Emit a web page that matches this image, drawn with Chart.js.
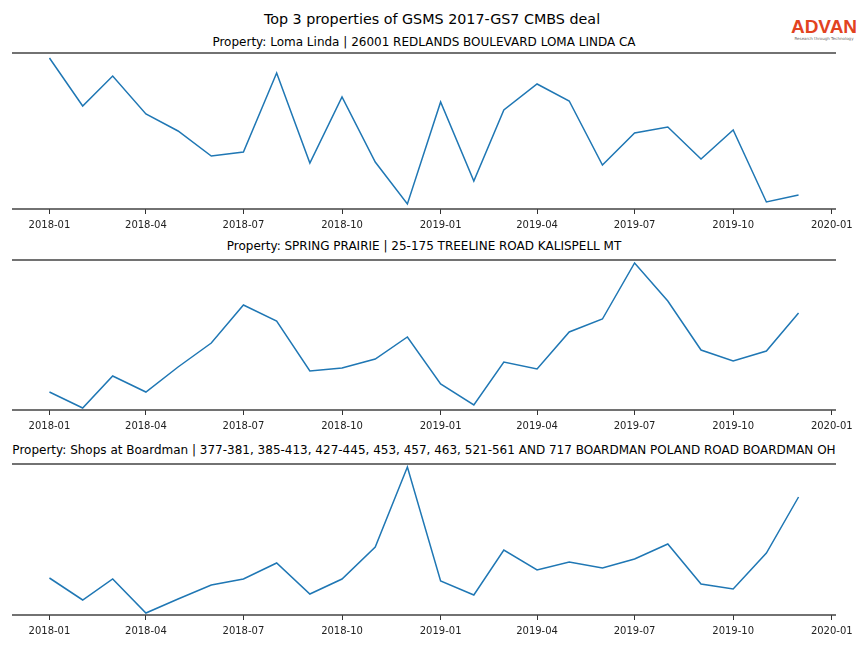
<!DOCTYPE html>
<html lang="en">
<head>
<meta charset="UTF-8">
<title>Top 3 properties of GSMS 2017-GS7 CMBS deal</title>
<script src="https://cdn.jsdelivr.net/npm/chart.js@4"></script>
<style>
    body { margin: 0; background: #fff; font-family: "DejaVu Sans", sans-serif; }
    #page { position: relative; width: 864px; height: 648px; overflow: hidden; }
    .box { position: absolute; left: 0; width: 864px; }
    .txt { position: absolute; white-space: nowrap; color: #000; transform: translate(-50%, -50%); }
    #logo { position: absolute; left: 790px; top: 18px; width: 68px; text-align: center; }
    #logo .big { color: #e2431f; font: bold 19px "Liberation Sans", sans-serif; line-height: 18px; }
    #logo .small { color: #666; font: 4px "DejaVu Sans", sans-serif; line-height: 5px; }
</style>
</head>
<body>
<div id="page">
    <div class="txt" style="left:432px; top:19px; font-size:14.3px;">Top 3 properties of GSMS 2017-GS7 CMBS deal</div>
    <div id="logo"><div class="big">ADVAN</div><div class="small">Research through Technology</div></div>

    <div class="txt" style="left:424px; top:42px; font-size:12px;">Property: Loma Linda | 26001 REDLANDS BOULEVARD LOMA LINDA CA</div>
    <div class="box" style="top:51px; height:186px;"><canvas id="c1"></canvas></div>

    <div class="txt" style="left:424px; top:246px; font-size:12px;">Property: SPRING PRAIRIE | 25-175 TREELINE ROAD KALISPELL MT</div>
    <div class="box" style="top:258px; height:180px;"><canvas id="c2"></canvas></div>

    <div class="txt" style="left:424px; top:450px; font-size:12px;">Property: Shops at Boardman | 377-381, 385-413, 427-445, 453, 457, 463, 521-561 AND 717 BOARDMAN POLAND ROAD BOARDMAN OH</div>
    <div class="box" style="top:462px; height:181px;"><canvas id="c3"></canvas></div>
</div>

<script>
    // monthly observations
    const months = ['2018-01','2018-02','2018-03','2018-04','2018-05','2018-06','2018-07','2018-08','2018-09','2018-10','2018-11','2018-12',
                    '2019-01','2019-02','2019-03','2019-04','2019-05','2019-06','2019-07','2019-08','2019-09','2019-10','2019-11','2019-12'];
    const tickLabels = ['2018-01','2018-04','2018-07','2018-10','2019-01','2019-04','2019-07','2019-10','2020-01'];

    const lomaLinda = [151, 103, 133, 95, 78, 53, 57, 136, 46, 112, 47, 5, 107, 28, 99, 125, 108, 44, 76, 82, 50, 79, 7, 14];
    const springPrairie = [18, 2, 34, 18, 43, 67, 105, 89, 39, 42, 51, 73, 26, 5, 48, 41, 78, 91, 147, 109, 60, 49, 59, 97];
    const boardman = [37, 15, 36, 2, 16, 30, 36, 52, 21, 36, 68, 148, 34, 20, 65, 45, 53, 47, 56, 71, 31, 26, 62, 118];

    const yTop = [156, 150, 151];

    function dayOf(s) {
        const p = s.split('-');
        return (Date.UTC(+p[0], +p[1] - 1, 1) - Date.UTC(2018, 0, 1)) / 86400000;
    }
    const xs = months.map(dayOf);
    const span = xs[xs.length - 1] - xs[0];
    const tickDays = tickLabels.map(dayOf);

    // top and bottom spines
    const spines = {
        id: 'spines',
        afterDraw(chart) {
            const a = chart.chartArea, g = chart.ctx;
            g.save();
            g.strokeStyle = '#444';
            g.lineWidth = 1.6;
            g.beginPath();
            g.moveTo(a.left, a.top); g.lineTo(a.right, a.top);
            g.moveTo(a.left, a.bottom); g.lineTo(a.right, a.bottom);
            g.stroke();
            g.restore();
        }
    };

    function plotar(id, values, ymax) {
        new Chart(document.getElementById(id), {
            type: 'line',
            data: {
                datasets: [{
                    data: values.map((v, i) => ({ x: xs[i], y: v })),
                    borderColor: '#1f77b4',
                    borderWidth: 1.5,
                    pointRadius: 0,
                    tension: 0,
                    fill: false
                }]
            },
            options: {
                responsive: true,
                maintainAspectRatio: false,
                animation: false,
                layout: { padding: { left: 12, right: 28, top: 2, bottom: 4 } },
                plugins: { legend: { display: false }, tooltip: { enabled: false } },
                scales: {
                    x: {
                        type: 'linear',
                        min: xs[0] - 0.05 * span,
                        max: xs[xs.length - 1] + 0.05 * span,
                        afterBuildTicks(scale) { scale.ticks = tickDays.map(v => ({ value: v })); },
                        afterFit(scale) { scale.height = 24; },
                        border: { display: false },
                        grid: { display: true, drawOnChartArea: false, drawTicks: true, tickLength: 5, color: '#333', tickWidth: 1 },
                        ticks: {
                            autoSkip: false,
                            maxRotation: 0,
                            padding: 5,
                            color: '#222',
                            font: { family: 'DejaVu Sans', size: 10 },
                            callback(v) { const i = tickDays.indexOf(v); return i >= 0 ? tickLabels[i] : ''; }
                        }
                    },
                    y: { display: false, min: 0, max: ymax }
                }
            },
            plugins: [spines]
        });
    }

    plotar('c1', lomaLinda, yTop[0]);
    plotar('c2', springPrairie, yTop[1]);
    plotar('c3', boardman, yTop[2]);
</script>
</body>
</html>
